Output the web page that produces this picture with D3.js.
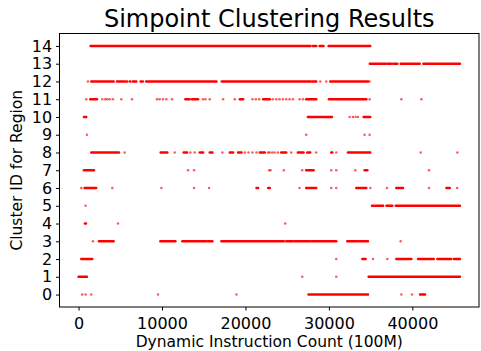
<!DOCTYPE html>
<meta charset="utf-8">
<style>
body { margin: 0; background: #fff; }
text { font-family: "DejaVu Sans", sans-serif; fill: #000; }
.axis path, .axis line { stroke: #000; stroke-width: 1; }
.run { stroke: #ff0000; stroke-linecap: round; }
</style>
<svg width="481" height="351"></svg>
<script src="https://d3js.org/d3.v7.min.js"></script>
<script>
// runs of regions per cluster: [first, last] instruction count (100M); a single point has first == last
var c0 = [[440,440],[840,840],[1520,1520],[9520,9520],[18920,18920],[27560,34680],[38680,38680],[39960,39960],[40920,41520]];
var c1 = [[0,1000],[26800,26800],[30880,30880],[34760,45700]];
var c2 = [[320,1640],[30880,30880],[34000,34400],[35280,35280],[37000,37000],[38080,39880],[40680,42560],[43000,44680],[45000,45700]];
var c3 = [[1720,1720],[2440,4200],[9800,11600],[12440,15320],[15520,16040],[17120,24600],[24880,25680],[25880,27680],
          [27880,30880],[32200,33400],[33600,34680],[38600,38600]];
var c4 = [[760,880],[4720,4720],[24760,24760]];
var c5 = [[840,840],[35160,36500],[36900,37600],[38000,45700]];
var c6 = [[320,320],[720,2120],[4040,4040],[9920,9920],[13840,13840],[15640,15640],[21320,21520],[22720,22920],[26480,26480],
          [27280,28480],[30280,30280],[30880,30880],[33280,34480],[34960,34960],[36960,36960],[38080,38880],[42000,42000],
          [44080,44480],[45360,45360]];
var c7 = [[640,1840],[13120,13120],[13840,13840],[22840,22840],[23000,23000],[24600,24600],[26800,26800],[27280,28160],
          [30280,30280],[30880,30880],[33160,33160],[34280,34600],[42000,42000]];
var c8 = [[1520,4840],[5520,5520],[9840,10640],[11520,11520],[12600,13000],[13400,13400],[13920,13920],[14520,14920],
          [15720,16040],[17240,17240],[18120,18520],[19120,19520],[19920,19920],[20360,20360],[20840,20840],[21320,21320],
          [21720,22320],[22720,22720],[22880,22880],[23200,23200],[23480,23480],[23880,23880],[24280,24880],[25480,25480],
          [26280,26960],[27400,27760],[28480,28480],[30280,30400],[30880,30880],[32280,34950],[41000,41000],[45400,45400]];
var c9 = [[1000,1000],[27280,27280],[34280,34280],[34880,34880]];
var c10 = [[640,920],[27480,30360],[32480,32480],[32880,32880],[33200,33200],[33480,33480],[34160,34950]];
var c11 = [[920,920],[1400,2200],[2840,2840],[3200,3200],[3440,3440],[3720,3720],[4120,4120],[5120,5120],[6400,6400],
           [9400,9400],[9720,9720],[10120,10120],[10520,10520],[11200,11200],[12800,13320],[13600,14320],[14920,14920],
           [15200,15200],[15720,15720],[17320,17320],[18720,18720],[19320,19720],[20840,20840],[21240,21240],[21640,21640],
           [22120,22920],[23280,23280],[23680,23680],[24080,24080],[24480,24480],[24880,24880],[25280,25280],[25680,25680],
           [26480,26480],[26880,26880],[27280,28480],[30000,34480],[34880,34880],[38680,38680],[41080,41080]];
var c12 = [[1120,1120],[1520,4200],[4600,5520],[5720,5800],[6120,6200],[6500,6920],[7440,7700],[8100,16520],[17160,27800],
           [28000,28480],[28960,28960],[29680,29680],[30160,34680],[34880,34880]];
var c13 = [[34900,36800],[37000,37500],[37700,38200],[38600,40880],[41320,45700]];
var c14 = [[1440,27800],[28080,28480],[28880,29360],[29960,34950]];

var clusters = [c0, c1, c2, c3, c4, c5, c6, c7, c8, c9, c10, c11, c12, c13, c14];
var xTicks = [0, 10000, 20000, 30000, 40000];
var yTicks = d3.range(0, 15);

var svg = d3.select("svg"),
    pLeft = 59.5, pRight = 479, pTop = 33.5, pBottom = 307;

var x = d3.scaleLinear().domain([-2285, 47985]).range([pLeft, pRight]),
    y = d3.scaleLinear().domain([-0.7, 14.7]).range([pBottom, pTop]);

var runs = [];
clusters.forEach(function(c, id) {
  c.forEach(function(r) { runs.push({id: id, a: r[0], b: r[1]}); });
});

svg.append("g").selectAll("line")
  .data(runs)
  .enter().append("line")
    .attr("class", "run")
    .attr("x1", function(d) { return x(d.a); })
    .attr("x2", function(d) { return x(d.b); })
    .attr("y1", function(d) { return y(d.id); })
    .attr("y2", function(d) { return y(d.id); })
    .attr("stroke-width", 2.5)
    .attr("stroke-opacity", function(d) { return d.a == d.b ? 0.65 : 1; });

svg.append("g")
    .attr("class", "axis")
    .attr("transform", "translate(0," + pBottom + ")")
    .call(d3.axisBottom(x).tickValues(xTicks).tickFormat(d3.format("d")).tickSize(3.5).tickSizeOuter(0))
    .call(function(g) { g.select(".domain").remove(); })
    .selectAll("text").attr("font-size", 16).attr("dy", "0.95em");

svg.append("g")
    .attr("class", "axis")
    .attr("transform", "translate(" + pLeft + ",0)")
    .call(d3.axisLeft(y).tickValues(yTicks).tickSize(3.5).tickSizeOuter(0))
    .call(function(g) { g.select(".domain").remove(); })
    .selectAll("text").attr("font-size", 16).attr("dx", "-0.05em");

svg.selectAll(".axis text").attr("font-family", "DejaVu Sans").attr("fill", "#000");

svg.append("rect")
    .attr("x", pLeft).attr("y", pTop)
    .attr("width", pRight - pLeft).attr("height", pBottom - pTop)
    .attr("fill", "none").attr("stroke", "#000").attr("stroke-width", 1);

svg.append("text")
    .attr("x", (pLeft + pRight) / 2).attr("y", 27)
    .attr("text-anchor", "middle").attr("font-size", 24)
    .text("Simpoint Clustering Results");

svg.append("text")
    .attr("x", (pLeft + pRight) / 2).attr("y", 347)
    .attr("text-anchor", "middle").attr("font-size", 15.5)
    .text("Dynamic Instruction Count (100M)");

svg.append("text")
    .attr("transform", "translate(22," + ((pTop + pBottom) / 2) + ") rotate(-90)")
    .attr("text-anchor", "middle").attr("font-size", 15.5)
    .text("Cluster ID for Region");
</script>
